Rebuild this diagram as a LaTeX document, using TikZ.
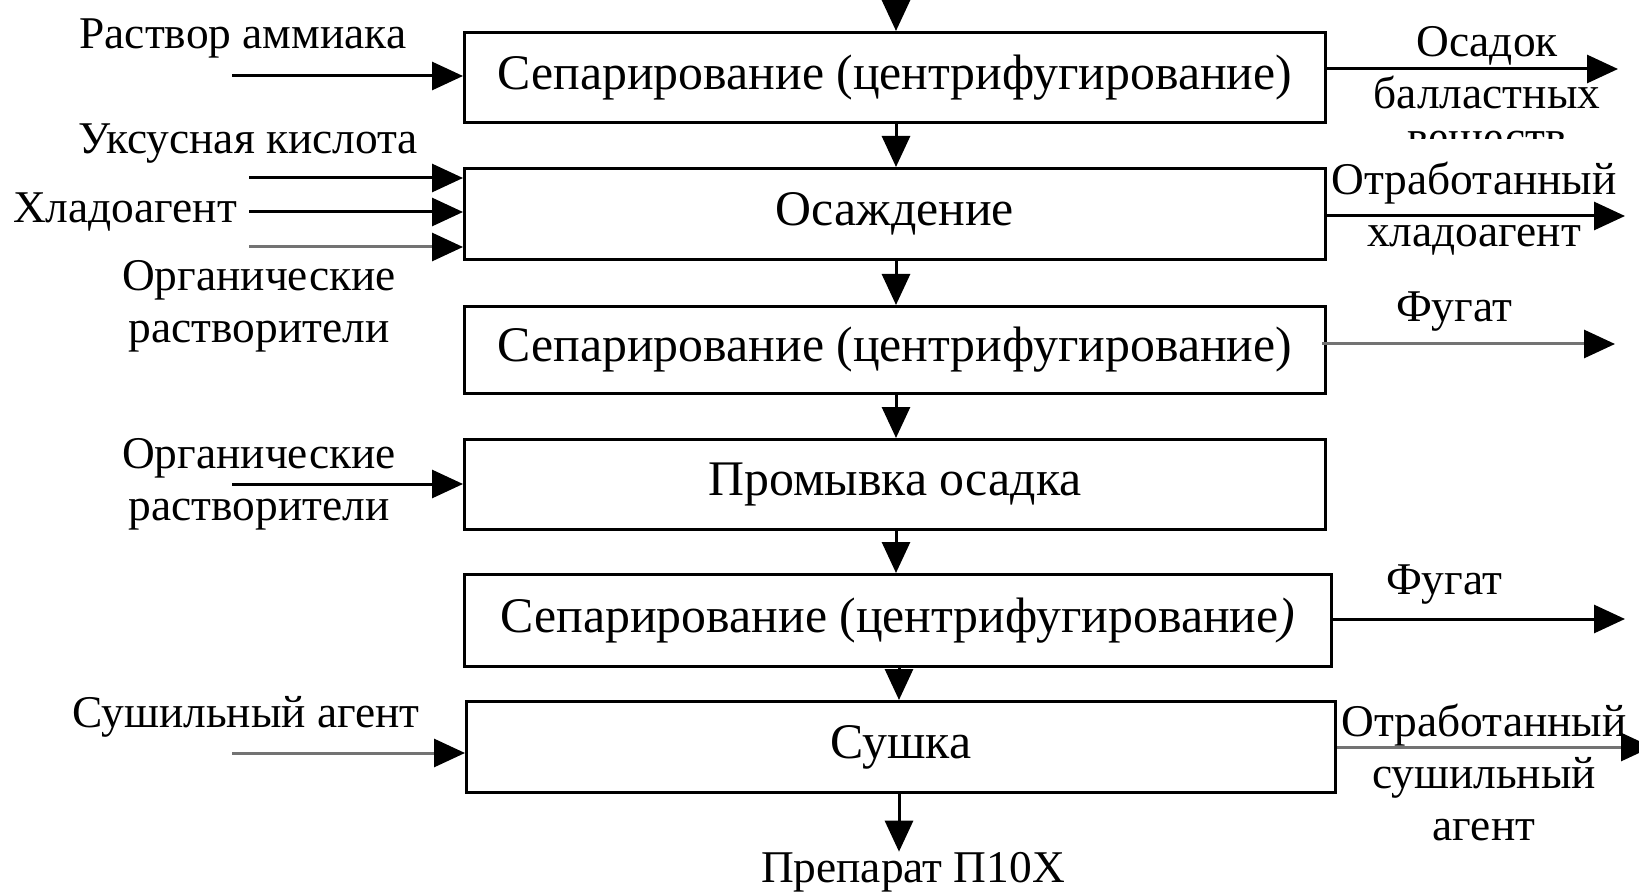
\documentclass[tikz,border=0pt]{standalone}
\usepackage{fontspec}
\setmainfont{Liberation Serif}
\usetikzlibrary{arrows.meta}
\begin{document}
\begin{tikzpicture}[x=0.5pt,y=-0.5pt,
  every node/.style={font=\fontsize{22.7pt}{26pt}\selectfont, inner sep=0pt},
  boxtext/.style={font=\fontsize{24.9pt}{28pt}\selectfont},
  proc/.style={draw, line width=1.5pt, minimum height=#1, anchor=north west},
  arr/.style={line width=1.5pt, -{Triangle[length=15.5pt,width=14pt]}},
  garr/.style={arr, draw=black!55, -{Triangle[length=15.5pt,width=14pt,fill=black,color=black]}},
  lab/.style={align=center}]
\useasboundingbox (0,0) rectangle (1639,893);

% process boxes
\node[proc=45pt, minimum width=430.5pt] (b1) at (463,31) {};
\node[boxtext] at (b1.center) {Сепарирование (центрифугирование)};
\node[proc=45.5pt, minimum width=430.5pt] (b2) at (463,167) {};
\node[boxtext] at (b2.center) {Осаждение};
\node[proc=43.5pt, minimum width=430.5pt] (b3) at (463,305) {};
\node[boxtext] at (b3.center) {Сепарирование (центрифугирование)};
\node[proc=45pt, minimum width=430.5pt] (b4) at (463,438) {};
\node[boxtext] at (b4.center) {Промывка осадка};
\node[proc=46pt, minimum width=433.5pt] (b5) at (463,573) {};
\node[boxtext] at (b5.center) {Сепарирование (центрифугирование\textit{)}};
\node[proc=45.5pt, minimum width=434.5pt] (b6) at (465,700) {};
\node[boxtext] at (b6.center) {Сушка};

% main vertical flow
\coordinate (top) at (896,0);
\draw[arr] (top) -- (top |- b1.north);
\draw[arr] (b1.south -| top) -- (b2.north -| top);
\draw[arr] (b2.south -| top) -- (b3.north -| top);
\draw[arr] (b3.south -| top) -- (b4.north -| top);
\draw[arr] (b4.south -| top) -- (b5.north -| top);
\coordinate (c56) at (899,0);
\draw[arr] (b5.south -| c56) -- (b6.north -| c56);
\node (prod) at (913,872) {Препарат П10Х};
\draw[arr] (b6.south -| c56) -- (c56 |- prod.north);

% left inputs
\node (l1) at (243,38) {Раствор аммиака};
\coordinate (i1) at (232,76);
\draw[arr] (i1) -- (i1 -| b1.west);

\node (l2) at (248,144) {Уксусная кислота};
\node (l3) at (125,212) {Хладоагент};
\node[lab] (l4) at (259,306) {Органические\\растворители};
\coordinate (i2) at (249,178);
\coordinate (i3) at (249,212);
\coordinate (i4) at (249,247);
\draw[arr] (i2) -- (i2 -| b2.west);
\draw[arr] (i3) -- (i3 -| b2.west);
\draw[garr] (i4) -- (i4 -| b2.west);

\node[lab] (l5) at (259,484) {Органические\\растворители};
\coordinate (i5) at (232,484);
\draw[arr] (i5) -- (i5 -| b4.west);

\node (l6) at (246,717) {Сушильный агент};
\coordinate (i6) at (232,753);
\draw[garr] (i6) -- (i6 -| b6.west);

% right outputs
\coordinate (o1) at (1618,69);
\draw[arr] (o1 -| b1.east) -- (o1);
\node[lab] (r1) at (1487,68) {Осадок\\балластных};
\begin{scope}
  \clip (1380,126) rectangle (1600,139);
  \node (r1b) at (1487,147) {веществ};
\end{scope}

\coordinate (o2) at (1625,216);
\draw[arr] (1327,216) -- (o2);
\node[lab] (r2) at (1474,209) {Отработанный\\хладоагент};

\coordinate (o3) at (1615,344);
\draw[garr] (1322,344) -- (o3);
\node (r3) at (1454,312) {Фугат};

\coordinate (o5) at (1625,619);
\draw[arr] (o5 -| b5.east) -- (o5);
\node (r5) at (1444,585) {Фугат};

\coordinate (o6) at (1652,747);
\draw[garr] (o6 -| b6.east) -- (o6);
\node[lab] (r6) at (1484,772) {Отработанный\\сушильный\\агент};
\end{tikzpicture}
\end{document}
